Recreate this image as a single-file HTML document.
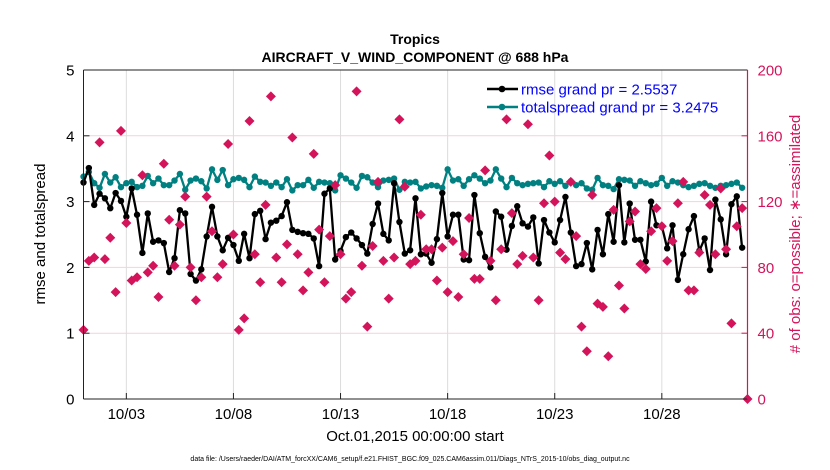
<!DOCTYPE html>
<html><head><meta charset="utf-8"><style>
html,body{margin:0;padding:0;background:#fff;width:830px;height:470px;overflow:hidden}
svg text{font-family:"Liberation Sans",Arial,sans-serif}
</style></head><body>
<svg id="chart" width="830" height="470" xmlns="http://www.w3.org/2000/svg">
<g id="grid"></g>
<g id="marks"></g>
<g id="axes"></g>
<text x="415" y="44" text-anchor="middle" font-size="14" font-weight="bold">Tropics</text>
<text x="415" y="62" text-anchor="middle" font-size="14" font-weight="bold">AIRCRAFT_V_WIND_COMPONENT @ 688 hPa</text>
<text x="415" y="441" text-anchor="middle" font-size="15">Oct.01,2015 00:00:00 start</text>
<text transform="translate(45,234) rotate(-90)" text-anchor="middle" font-size="15">rmse and totalspread</text>
<text transform="translate(800,234) rotate(-90)" text-anchor="middle" font-size="15" fill="#d4145a">#  of obs: o=possible; ∗=assimilated</text>
<text x="410" y="461" text-anchor="middle" font-size="7">data file: /Users/raeder/DAI/ATM_forcXX/CAM6_setup/f.e21.FHIST_BGC.f09_025.CAM6assim.011/Diags_NTrS_2015-10/obs_diag_output.nc</text>
<g>
<line x1="487" y1="89" x2="518" y2="89" stroke="#000" stroke-width="2.5"/><circle cx="502" cy="89" r="3.3" fill="#000"/>
<text x="521" y="94.5" font-size="15" fill="#0000ff">rmse grand pr = 2.5537</text>
<line x1="487" y1="107" x2="518" y2="107" stroke="#008080" stroke-width="2.5"/><circle cx="502" cy="107" r="3.3" fill="#008080"/>
<text x="521" y="112.5" font-size="15" fill="#0000ff">totalspread grand pr = 3.2475</text>
</g>
</svg>
<script>
const rmse=[3.29,3.51,2.95,3.12,3.05,2.90,3.13,3.01,2.77,3.20,2.80,2.22,2.82,2.39,2.41,2.37,1.93,2.14,2.87,2.82,1.90,1.80,1.97,2.47,2.92,2.47,2.26,2.45,2.34,2.10,2.51,2.14,2.81,2.86,2.43,2.68,2.71,2.78,2.99,2.57,2.54,2.52,2.51,2.44,2.02,3.12,3.20,2.12,2.25,2.46,2.53,2.44,2.34,2.21,2.66,2.97,2.51,2.41,3.28,2.69,2.21,2.26,3.05,2.20,2.21,2.07,2.43,3.13,2.47,2.80,2.80,2.12,2.11,3.10,2.52,2.16,2.00,2.85,2.77,2.27,2.63,2.93,2.67,2.62,2.76,2.06,2.72,2.53,2.38,2.72,3.07,2.53,2.02,2.05,2.37,1.97,2.57,2.20,2.81,2.39,3.25,2.38,2.97,2.42,2.42,2.09,3.00,2.64,2.63,2.29,2.64,1.81,2.20,2.58,2.78,2.25,2.44,1.96,3.03,2.73,2.20,2.96,3.08,2.30];
const spread=[3.38,3.45,3.28,3.21,3.42,3.29,3.37,3.22,3.28,3.30,3.22,3.24,3.39,3.28,3.35,3.25,3.25,3.32,3.42,3.18,3.32,3.35,3.31,3.20,3.49,3.33,3.48,3.25,3.34,3.36,3.33,3.22,3.38,3.30,3.29,3.24,3.29,3.22,3.34,3.17,3.25,3.25,3.33,3.21,3.30,3.29,3.28,3.17,3.40,3.35,3.29,3.21,3.39,3.37,3.29,3.22,3.32,3.33,3.35,3.18,3.30,3.29,3.30,3.20,3.23,3.25,3.24,3.21,3.49,3.32,3.34,3.24,3.34,3.40,3.35,3.28,3.32,3.49,3.35,3.22,3.36,3.28,3.25,3.27,3.28,3.29,3.22,3.31,3.27,3.31,3.24,3.31,3.25,3.28,3.20,3.18,3.36,3.25,3.24,3.19,3.34,3.33,3.32,3.24,3.31,3.28,3.25,3.27,3.36,3.24,3.31,3.29,3.25,3.22,3.24,3.27,3.28,3.24,3.21,3.24,3.25,3.27,3.29,3.21];
const obsCount=[42,84,86,156,85,98,65,163,107,72,74,136,77,81,62,143,109,81,106,123,80,60,74,123,102,74,82,155,100,42,49,169,88,71,118,184,86,71,94,159,88,66,77,149,103,71,99,130,88,61,65,187,81,44,93,132,84,61,86,170,129,82,84,112,91,91,72,92,65,96,62,88,110,73,73,139,84,60,91,170,113,82,87,167,86,60,119,148,120,89,85,132,99,44,29,124,58,56,26,115,69,55,108,114,82,79,102,116,105,84,96,119,132,66,66,89,124,118,88,128,91,46,105,116,0];
const xTickDays=[2,7,12,17,22,27];
const xTickLabels=["10/03","10/08","10/13","10/18","10/23","10/28"];
const yLeftTicks=[0,1,2,3,4,5];
const yRightTicks=[0,40,80,120,160,200];
const stepDays=0.25;

const L=83.5,R=747.5,T=70,B=399;
const xS=d=>L+(d/31)*(R-L);
const yL=v=>B-(v/5)*(B-T);
const yR=c=>B-(c/200)*(B-T);
const NS="http://www.w3.org/2000/svg";
function mk(tag,attrs,parent){const e=document.createElementNS(NS,tag);for(const k in attrs)e.setAttribute(k,attrs[k]);parent.appendChild(e);return e;}
const grid=document.getElementById('grid'),marks=document.getElementById('marks'),axes=document.getElementById('axes');

xTickDays.forEach((d,i)=>{
  const gl=mk('line',{x1:xS(d),x2:xS(d),y1:T,y2:B,stroke:'#dcdcdc','stroke-width':1},grid);
  
  
  mk('line',{x1:xS(d),x2:xS(d),y1:B,y2:B-6,stroke:'#222','stroke-width':1},axes);
  const t=mk('text',{x:xS(d),y:419,'text-anchor':'middle','font-size':15},axes);
  t.textContent=xTickLabels[i];
  
  
});
yRightTicks.forEach(c=>{
  if(c>0&&c<200){const gl=mk('line',{x1:L,x2:R,y1:yR(c),y2:yR(c),stroke:'#f1d3de','stroke-width':1},grid);
  
  }
  mk('line',{x1:R,x2:R-6,y1:yR(c),y2:yR(c),stroke:'#d4145a','stroke-width':1},axes);
  const t=mk('text',{x:R+10,y:yR(c)+5.5,'font-size':15,fill:'#d4145a'},axes);
  t.textContent=c;
  
  
});
yLeftTicks.forEach(v=>{
  mk('line',{x1:L,x2:L+6,y1:yL(v),y2:yL(v),stroke:'#222','stroke-width':1},axes);
  const t=mk('text',{x:L-9,y:yL(v)+5.5,'text-anchor':'end','font-size':15},axes);
  t.textContent=v;
  
  
});
mk('line',{x1:L,x2:R,y1:T,y2:T,stroke:'#222','stroke-width':1},axes);
mk('line',{x1:L,x2:R,y1:B,y2:B,stroke:'#222','stroke-width':1},axes);
mk('line',{x1:L,x2:L,y1:T,y2:B,stroke:'#222','stroke-width':1},axes);
mk('line',{x1:R,x2:R,y1:T,y2:B,stroke:'#d4145a','stroke-width':1.2},axes);

function series(vals,color,name){
  const pts=vals.map((v,i)=>xS(i*stepDays).toFixed(1)+','+yL(v).toFixed(1)).join(' ');
  const pl=mk('polyline',{points:pts,fill:'none',stroke:color,'stroke-width':2.3,'stroke-linejoin':'round'},marks);
  
  
  vals.forEach((v,i)=>{
    const c=mk('circle',{cx:xS(i*stepDays),cy:yL(v),r:3.2,fill:color},marks);
    
    
  });
}
series(spread,'#008080','totalspread');
series(rmse,'#000000','rmse');
obsCount.forEach((c,i)=>{
  const x=xS(i*stepDays),y=yR(c),s=5;
  const d=mk('path',{d:`M${x},${y-s}L${x+s},${y}L${x},${y+s}L${x-s},${y}Z`,fill:'#d4145a'},marks);
  
  
});
</script>
</body></html>
